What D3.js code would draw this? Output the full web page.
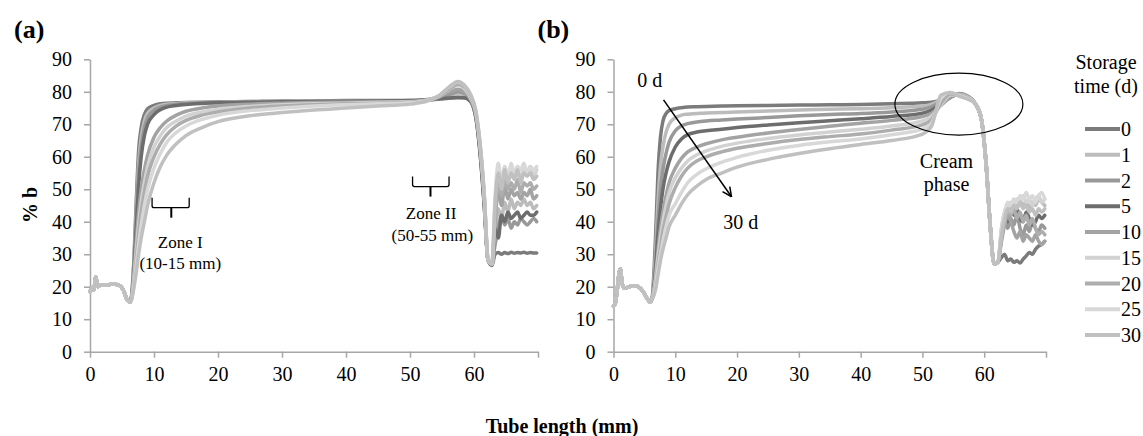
<!DOCTYPE html>
<html>
<head>
<meta charset="utf-8">
<script src="https://cdn.jsdelivr.net/npm/d3@7"></script>
<style>
body { margin: 0; background: #fff; }
text { font-family: "Liberation Serif", "Times New Roman", serif; fill: #000; }
</style>
</head>
<body>
<svg id="chart" width="1143" height="436"></svg>
<script>
// storage times (legend order)
var storageDays = ["0", "1", "2", "5", "10", "15", "20", "25", "30"];

// tube length grids (mm)
var startXA = [0, 0.3, 0.6, 0.9, 1.2, 1.6, 2.5, 3.5, 4.5, 5.2, 5.8, 6.3];
var startYA = [18.5, 19.5, 19, 23, 20, 20.5, 20.5, 20.8, 20.5, 19, 16, 15.3];
var startXB = [0, 0.3, 0.6, 0.9, 1.1, 1.4, 1.8, 2.5, 3.2, 4, 4.8, 5.4, 5.9, 6.2];
var startYB = [14, 15, 19, 24, 25.5, 21, 19.5, 20, 20.3, 20, 18.5, 16.5, 15.3, 16];
var bodyX = [6.8, 7.2, 7.6, 8, 8.5, 9, 10, 11, 12, 13.5, 15, 17.5, 20, 25, 30, 35, 40, 45, 50, 51.5, 53, 54.5, 56, 57.5, 58.5, 59.5, 60.3, 61, 61.6, 62.2,
             62.8, 63.3, 63.8, 64.3, 64.8, 65.3, 65.8, 66.3, 66.8, 67.3, 67.8, 68.3, 68.8, 69.3, 69.8];

// panel (a) % b
var a0  = [26,45,62,69,73,74.8,75.8,76.3,76.5,76.6,76.7,76.8,76.9,77,77.2,77.2,77.3,77.3,77.3,77.4,77.5,77.7,78,78.2,78.2,77,72,60,45,28, 26.5,30,30.5,30,30.5,30.2,30.6,30.3,30.5,30.4,30.6,30.3,30.5,30.4,30.4];
var a1  = [25,42,58,66,71,73.5,75,75.8,76.2,76.4,76.6,76.7,76.8,77,77,77.1,77.2,77.2,77.3,77.4,77.6,78,78.8,79.5,79,77,72,61,46,28, 27,36,44,41,46,43,47,44,46,45,47,45,46,44,45];
var a2  = [24,40,55,63,69,72,74.3,75.3,75.8,76.2,76.4,76.6,76.7,76.8,76.9,77,77,77.1,77.2,77.3,77.5,78,79,80,79.5,77.2,72.5,61,46,28, 27,33,38,42,39,41,38,40,39,41,40,39,40,41,40];
var a5  = [23,37,51,60,66.5,70,73,74.5,75.3,75.8,76.1,76.4,76.6,76.8,76.9,77,77.1,77.2,77.3,77.4,77.6,77.9,78.1,78.3,78.2,77,72,60,45,28, 27,38,35,42,40,43,41,42,43,41,42,43,42,42,43];
var a10 = [22,33,43,50,56,60.5,66,69,71,72.8,74,75,75.6,76.2,76.5,76.7,76.8,76.9,77,77.2,77.6,78.4,79.8,80.8,80,77.5,73,62,47,28, 27,40,50,45,51,47,50,48,49,47,49,48,50,47,48];
var a15 = [21,30,39,46,52,57,63,66.5,69,71,72.5,73.8,74.6,75.5,76,76.3,76.5,76.7,76.9,77.1,77.6,78.6,80.5,82,81,78,73.5,62.5,48,28, 27,45,55,50,57,52,56,54,57,53,56,55,57,54,56];
var a20 = [20,28,36,43,49,54,60,64,66.8,69.5,71.2,72.8,73.8,75,75.6,76,76.3,76.5,76.8,77,77.5,78.6,80.6,82.3,81.5,78.5,73.5,62.5,48,28, 27,42,52,48,53,50,52,50,53,49,52,51,52,50,51];
var a25 = [19.5,26,33,39,45,50,56.5,61,64.5,67.5,69.5,71.5,72.8,74.2,75,75.6,76,76.3,76.6,76.9,77.5,78.8,81.2,83,82,79,74,63,48.5,28.5, 27,48,58,52,57,54,58,55,57,56,58,55,57,56,57];
var a30 = [19,24,30,35,40,45,52,57,60.5,64,66.5,69,70.8,72.6,73.6,74.4,75,75.6,76.2,76.6,77.4,78.8,81.3,83.2,82,79,74,63,48.5,28.5, 27,46,55,50,56,52,55,53,56,52,55,54,55,53,54];

// panel (b) % b
var b0  = [35,55,66,71,73.3,74.2,74.8,75.1,75.3,75.4,75.5,75.6,75.7,75.8,75.9,76,76.1,76.3,76.6,76.8,77.3,78.3,79.5,78.5,76.5,72,58,38,27,27.5, 29,30,28,28.5,27.5,28,27.3,28.5,29.5,30.5,30,31.5,32.5,33,34];
var b1  = [30,46,57,63,67.5,70,72,72.8,73.1,73.3,73.5,73.6,73.8,74.1,74.4,74.6,74.8,75.1,75.6,76.2,77.5,78.8,79.2,78.3,76.5,72,58,38,27,27.5, 38,43,45,44,46,45,47,45,46,44,46,45,47,46,45];
var b2  = [27,40,50,56,61,64.5,68,69.5,70.2,70.7,71,71.3,71.6,72.1,72.6,73,73.3,73.8,74.6,75.4,77,78.6,79.3,78.3,76.5,72,58,38,27,27.5, 35,40,38,41,39,42,38,36,39,37,40,38,37,39,38];
var b5  = [25,36,44,50,55,58.5,63,65.5,66.8,67.6,68,68.5,69,69.8,70.5,71.1,71.7,72.4,73.4,74.4,76.3,78.2,79.4,78.4,76.5,72,58,38,27,27.5, 36,41,40,43,42,44,41,40,43,41,39,40,42,41,42];
var b10 = [23,31,38,43,48,52,56.5,59.5,61.5,63,64,65.2,66,67.3,68.4,69.4,70.3,71.2,72.4,73.4,75.8,78.3,79.3,78.4,76.5,72,58,38,27,27.5, 34,39,42,40,37,35,37,34,36,35,34,36,34,33,34];
var b15 = [22,29,35,40,45,49,53.5,56.5,58.7,60.6,61.8,63.2,64.2,65.6,66.7,67.6,68.5,69.5,71,72.5,76,79,79.2,78.2,76.5,72,58,38,27,27.5, 37,42,44,46,45,47,46,48,46,47,45,47,48,46,47];
var b20 = [21,27,32,37,41.5,45.5,50.5,54,56.5,58.7,60,61.5,62.6,64.1,65.3,66.2,67,68.2,69.8,71.5,76.5,79.3,79,78,76.5,72,58,38,27,27.5, 35,40,43,42,44,41,43,40,42,39,41,38,36,37,36];
var b25 = [20,25.5,30,34,38.5,42,45.5,49,52,54.6,56.3,58.3,59.8,62,63.5,64.6,65.5,66.8,68.5,70.5,78,79.8,78.8,77.8,76.5,72,58,38,27,27.5, 38,43,46,45,47,46,48,47,49,47,48,46,48,49,47];
var b30 = [19,23.5,28,31.5,35,38.5,42,45.5,48.3,51,53,55,56.8,59.2,61,62.5,63.8,65,67,69.5,79,79.8,78.6,77.6,76.5,72,58,38,27,27.5, 36,41,44,43,45,44,46,44,45,43,44,42,44,43,44];

var yTicks = [0, 10, 20, 30, 40, 50, 60, 70, 80, 90];
var xTicks = [0, 10, 20, 30, 40, 50, 60, 70];

var seriesA = [a0, a1, a2, a5, a10, a15, a20, a25, a30];
var seriesB = [b0, b1, b2, b5, b10, b15, b20, b25, b30];
var lineColors = ["#7b7b7b", "#bcbcbc", "#999999", "#6d6d6d", "#a3a3a3", "#d2d2d2", "#adadad", "#d8d8d8", "#c0c0c0"];

var serif = '"Liberation Serif", "Times New Roman", serif';
var svg = d3.select("#chart");
var axisColor = "#a6a6a6";

var yScale = d3.scaleLinear().domain([0, 90]).range([351.7, 59.3]);
var xA = d3.scaleLinear().domain([0, 70]).range([90, 538]);
var xB = d3.scaleLinear().domain([0, 70]).range([613.5, 1046]);

svg.append("defs").append("marker")
    .attr("id", "arrowHead")
    .attr("viewBox", "0 0 10 10")
    .attr("refX", 9.5).attr("refY", 5)
    .attr("markerWidth", 11).attr("markerHeight", 11)
    .attr("markerUnits", "userSpaceOnUse")
    .attr("orient", "auto")
    .append("path")
    .attr("d", "M1,1 L9.5,5 L1,9")
    .attr("fill", "none")
    .attr("stroke", "#000")
    .attr("stroke-width", 1.4);

function drawPanel(x, startX, startY, series, label) {
    var g = svg.append("g");

    var yAxis = d3.axisLeft(yScale).tickValues(yTicks).tickSize(6).tickSizeOuter(0).tickPadding(12);
    var yG = g.append("g").attr("transform", "translate(" + x(0) + ",0)").call(yAxis);

    var xAxis = d3.axisBottom(x).tickValues(xTicks).tickSize(6).tickSizeOuter(0).tickPadding(9)
        .tickFormat(function(d) { return d === 70 ? "" : d; });
    var xG = g.append("g").attr("transform", "translate(0," + yScale(0) + ")").call(xAxis);

    [yG, xG].forEach(function(ax) {
        ax.attr("font-family", serif).attr("font-size", 20);
        ax.select(".domain").attr("stroke", axisColor).attr("stroke-width", 1.5);
        ax.selectAll(".tick line").attr("stroke", axisColor).attr("stroke-width", 1.5);
        ax.selectAll(".tick text").attr("fill", "#000");
    });

    var line = d3.line()
        .x(function(d) { return x(d[0]); })
        .y(function(d) { return yScale(d[1]); })
        .curve(d3.curveMonotoneX);

    series.forEach(function(vals, i) {
        var pts = startX.map(function(v, j) { return [v, startY[j]]; })
            .concat(bodyX.map(function(v, j) { return [v, vals[j]]; }));
        g.append("path")
            .datum(pts)
            .attr("d", line)
            .attr("fill", "none")
            .attr("stroke", lineColors[i])
            .attr("stroke-width", 3.5)
            .attr("stroke-linejoin", "round")
            .attr("stroke-linecap", "round");
    });

    g.append("text")
        .attr("x", x(0) - 76).attr("y", 38)
        .style("font-size", "26px").style("font-weight", "bold")
        .text(label);
    return g;
}

drawPanel(xA, startXA, startYA, seriesA, "(a)");
drawPanel(xB, startXB, startYB, seriesB, "(b)");

// Zone brackets in panel (a)
function brace(x1, x2, xc, yTop) {
    svg.append("path")
        .attr("d", "M" + x1 + "," + yTop + " V" + (yTop + 8) + " Q" + x1 + "," + (yTop + 10) + " " + (x1 + 2) + "," + (yTop + 10) +
                   " H" + (x2 - 2) + " Q" + x2 + "," + (yTop + 10) + " " + x2 + "," + (yTop + 8) + " V" + yTop)
        .attr("fill", "none").attr("stroke", "#000").attr("stroke-width", 1.3);
    svg.append("line")
        .attr("x1", xc).attr("x2", xc).attr("y1", yTop + 10).attr("y2", yTop + 20)
        .attr("stroke", "#000").attr("stroke-width", 2);
}
brace(xA(9.7), xA(15.5), xA(12.7), yScale(47.4));
brace(xA(50.4), xA(56.1), xA(53.2), yScale(53.9));

function note(x, y, txt, size) {
    svg.append("text").attr("x", x).attr("y", y)
        .attr("text-anchor", "middle").style("font-size", size + "px").text(txt);
}
note(xA(14.1), yScale(47.4) + 50, "Zone I", 17);
note(xA(14.1), yScale(47.4) + 71.5, "(10-15 mm)", 17);
note(xA(53.3), yScale(53.9) + 42.5, "Zone II", 17);
note(xA(53.5), yScale(53.9) + 64.5, "(50-55 mm)", 17);

// panel (b) annotations
svg.append("ellipse")
    .attr("cx", xB(55.9)).attr("cy", yScale(76.2))
    .attr("rx", 64).attr("ry", 31)
    .attr("fill", "none").attr("stroke", "#000").attr("stroke-width", 1.2);
note(xB(53.9), 168, "Cream", 20);
note(xB(53.9), 191, "phase", 20);

svg.append("line")
    .attr("x1", xB(8.1)).attr("y1", yScale(77.5))
    .attr("x2", xB(19.1)).attr("y2", yScale(47.7))
    .attr("stroke", "#000").attr("stroke-width", 1.5)
    .attr("marker-end", "url(#arrowHead)");
note(xB(5.85), 87, "0 d", 20);
note(xB(20.6), 228.5, "30 d", 20);

// axis titles
svg.append("text")
    .attr("transform", "translate(37,205) rotate(-90)")
    .attr("text-anchor", "middle")
    .style("font-size", "20px").style("font-weight", "bold")
    .text("% b");
svg.append("text")
    .attr("x", 562).attr("y", 433)
    .attr("text-anchor", "middle")
    .style("font-size", "20px").style("font-weight", "bold")
    .text("Tube length (mm)");

// legend
var legend = svg.append("g");
legend.append("text").attr("x", 1106).attr("y", 69).attr("text-anchor", "middle").style("font-size", "20px").text("Storage");
legend.append("text").attr("x", 1106).attr("y", 93).attr("text-anchor", "middle").style("font-size", "20px").text("time (d)");
var rowY = d3.scalePoint().domain(storageDays).range([129, 335]);
storageDays.forEach(function(d, i) {
    legend.append("line")
        .attr("x1", 1085).attr("x2", 1120)
        .attr("y1", rowY(d)).attr("y2", rowY(d))
        .attr("stroke", lineColors[i]).attr("stroke-width", 4);
    legend.append("text")
        .attr("x", 1121).attr("y", rowY(d) + 7)
        .style("font-size", "20px")
        .text(d);
});
</script>
</body>
</html>
